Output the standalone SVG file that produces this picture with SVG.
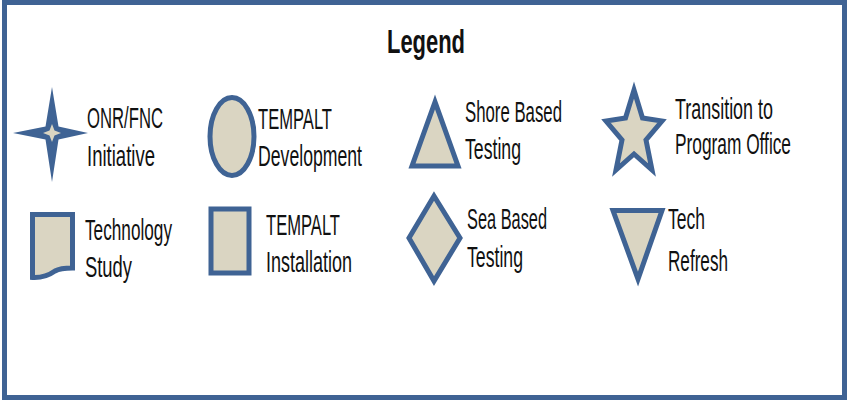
<svg xmlns="http://www.w3.org/2000/svg" width="850" height="401" viewBox="0 0 850 401">
<style>
.shp{fill:#dad5c2;stroke:#3f6394;stroke-width:5;stroke-linejoin:miter}
.t{font-family:"Liberation Sans",Arial,sans-serif;font-size:29px;fill:#111}
.title{font-family:"Liberation Sans",Arial,sans-serif;font-size:33px;font-weight:bold;fill:#111}
</style>
<rect x="0" y="0" width="850" height="401" fill="#ffffff"/>
<rect id="frame" x="4.5" y="2.5" width="840" height="395" fill="#ffffff" stroke="#3f6394" stroke-width="5"/>
<g id="title"><text class="title" x="387" y="53" textLength="78" lengthAdjust="spacingAndGlyphs">Legend</text></g>
<g id="onr">
<path d="M52,87 L58.5,126.5 L88,133 L58.5,139.5 L52,182 L45.5,139.5 L13,133 L45.5,126.5 Z" fill="#3f6394"/>
<path d="M52,124 L54.5,130.5 L61,133 L54.5,135.5 L52,142 L49.5,135.5 L43,133 L49.5,130.5 Z" fill="#dad5c2"/>
<text class="t" x="87" y="128" textLength="76" lengthAdjust="spacingAndGlyphs">ONR/FNC</text>
<text class="t" x="87" y="166" textLength="68" lengthAdjust="spacingAndGlyphs">Initiative</text>
</g>
<g id="tempalt-dev">
<ellipse class="shp" cx="232" cy="136.5" rx="22" ry="39"/>
<text class="t" x="258" y="129" textLength="74" lengthAdjust="spacingAndGlyphs">TEMPALT</text>
<text class="t" x="258" y="166" textLength="104" lengthAdjust="spacingAndGlyphs">Development</text>
</g>
<g id="shore">
<polygon class="shp" points="435,102 412,166 458,166"/>
<text class="t" x="465" y="122" textLength="97" lengthAdjust="spacingAndGlyphs">Shore Based</text>
<text class="t" x="465" y="159" textLength="56" lengthAdjust="spacingAndGlyphs">Testing</text>
</g>
<g id="transition">
<polygon class="shp" points="634,90 642.5,118 662,121 646,140 652,170 634,154 616,170 622,140 606,121 625.5,118"/>
<text class="t" x="675" y="119" textLength="98" lengthAdjust="spacingAndGlyphs">Transition to</text>
<text class="t" x="675" y="154" textLength="116" lengthAdjust="spacingAndGlyphs">Program Office</text>
</g>
<g id="study">
<path class="shp" d="M32.5,214.5 H72.5 V268 C66,268 60,268 55,271 C48,276 42,278 32.5,277.5 Z"/>
<text class="t" x="85" y="240" textLength="87" lengthAdjust="spacingAndGlyphs">Technology</text>
<text class="t" x="85" y="277" textLength="47" lengthAdjust="spacingAndGlyphs">Study</text>
</g>
<g id="tempalt-inst">
<rect class="shp" x="211" y="209" width="38" height="64" stroke-width="6"/>
<text class="t" x="266" y="235" textLength="74" lengthAdjust="spacingAndGlyphs">TEMPALT</text>
<text class="t" x="266" y="272" textLength="86" lengthAdjust="spacingAndGlyphs">Installation</text>
</g>
<g id="sea">
<polygon class="shp" points="434,196 460,238 434,281 409,238"/>
<text class="t" x="467" y="229" textLength="80" lengthAdjust="spacingAndGlyphs">Sea Based</text>
<text class="t" x="467" y="267" textLength="56" lengthAdjust="spacingAndGlyphs">Testing</text>
</g>
<g id="refresh">
<polygon class="shp" points="613,210.5 662,210.5 638,279"/>
<text class="t" x="668" y="229" textLength="37" lengthAdjust="spacingAndGlyphs">Tech</text>
<text class="t" x="668" y="271" textLength="60" lengthAdjust="spacingAndGlyphs">Refresh</text>
</g>
<g id="connectors"></g>
</svg>
